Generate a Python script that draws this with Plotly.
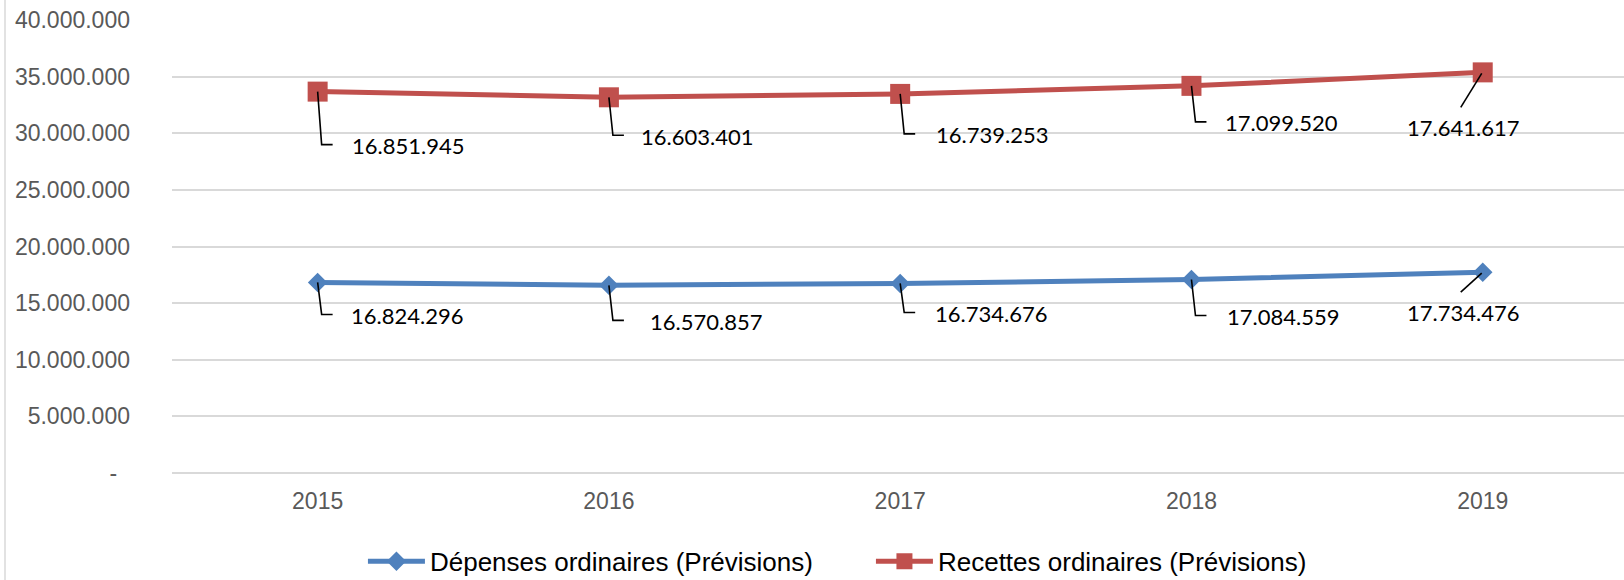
import plotly.graph_objects as go

years = ["2015", "2016", "2017", "2018", "2019"]
depenses = [16824296, 16570857, 16734676, 17084559, 17734476]
recettes = [16851945, 16603401, 16739253, 17099520, 17641617]
y_ticks = [0, 5000000, 10000000, 15000000, 20000000, 25000000, 30000000, 35000000, 40000000]

name_dep = "Dépenses ordinaires (Prévisions)"
name_rec = "Recettes ordinaires (Prévisions)"

BLUE = "#4F81BD"
RED = "#C0504D"

# label styling (pixel offsets of each data label relative to its point)
dep_label_dx = [31, 39, 33, 34, -20]
dep_label_dy = [33, 36, 30, 37, 40]
rec_label_dx = [32, 30, 34, 32, -20]
rec_label_dy = [54, 39, 41, 37, 55]

def fmt(v):
    return f"{v:,}".replace(",", ".")

tick_text = [fmt(v) if v else "-\u00a0\u00a0" for v in y_ticks]

xpos = list(range(len(years)))
rec_stacked = [d + r for d, r in zip(depenses, recettes)]

fig = go.Figure()
fig.add_trace(go.Scatter(
    x=xpos, y=depenses, name=name_dep, mode="lines+markers", stackgroup="one", fill="none",
    line=dict(color=BLUE, width=5), marker=dict(symbol="diamond", size=15, color=BLUE),
))
fig.add_trace(go.Scatter(
    x=xpos, y=recettes, name=name_rec, mode="lines+markers", stackgroup="one", fill="none",
    line=dict(color=RED, width=5), marker=dict(symbol="square", size=20, color=RED),
))

annotations = []
shapes = []
n = len(years)
for vals, ys, dxs, dys in [(depenses, depenses, dep_label_dx, dep_label_dy),
                           (recettes, rec_stacked, rec_label_dx, rec_label_dy)]:
    for i, (v, yv, dx, dy) in enumerate(zip(vals, ys, dxs, dys)):
        last = i == n - 1
        annotations.append(dict(
            x=xpos[i], y=yv, xref="x", yref="y", text=fmt(v), showarrow=False,
            xanchor="center" if last else "left", yanchor="middle",
            xshift=dx, yshift=-dy,
            font=dict(family="Lato", size=22, color="black"),
        ))
        if last:
            path = f"M-1,-1L-22,{-(dy - 20)}"
        else:
            path = f"M0,0L4,{-(dy - 1)}L15,{-(dy - 1)}"
        shapes.append(dict(
            type="path", xref="x", yref="y", xsizemode="pixel", ysizemode="pixel",
            xanchor=xpos[i], yanchor=yv, path=path,
            line=dict(color="black", width=1.6), layer="above",
        ))

shapes.append(dict(type="line", xref="paper", yref="paper",
                   x0=(5 - 172) / 1452, x1=(5 - 172) / 1452, y0=-0.3, y1=1.1,
                   line=dict(color="#D9D9D9", width=1.5)))

fig.update_layout(
    width=1624, height=580,
    margin=dict(l=172, r=0, t=20, b=107, autoexpand=False),
    paper_bgcolor="white", plot_bgcolor="white",
    showlegend=True,
    legend=dict(orientation="h", x=0.1315, xanchor="left", y=-0.195, yanchor="middle",
                font=dict(family="Liberation Sans", size=26, color="black"),
                entrywidth=436, entrywidthmode="pixels", itemwidth=57),
    annotations=annotations,
    shapes=shapes,
    xaxis=dict(range=[-0.5, 4.485], tickvals=xpos, ticktext=years,
               showgrid=False, zeroline=False, showline=False, ticks="",
               tickfont=dict(family="Liberation Sans", size=23, color="#595959"),
               ticklabelstandoff=12),
    yaxis=dict(range=[0, 40000000], tickvals=y_ticks, ticktext=tick_text,
               showgrid=True, gridcolor="#D9D9D9", gridwidth=1.5,
               zeroline=True, zerolinecolor="#D9D9D9", zerolinewidth=1.5,
               showline=False, ticks="",
               tickfont=dict(family="Liberation Sans", size=23, color="#595959"),
               ticklabelstandoff=41),
)

fig.write_html("out.html", config={"displayModeBar": False},
               post_script="document.body.style.margin='0';")
